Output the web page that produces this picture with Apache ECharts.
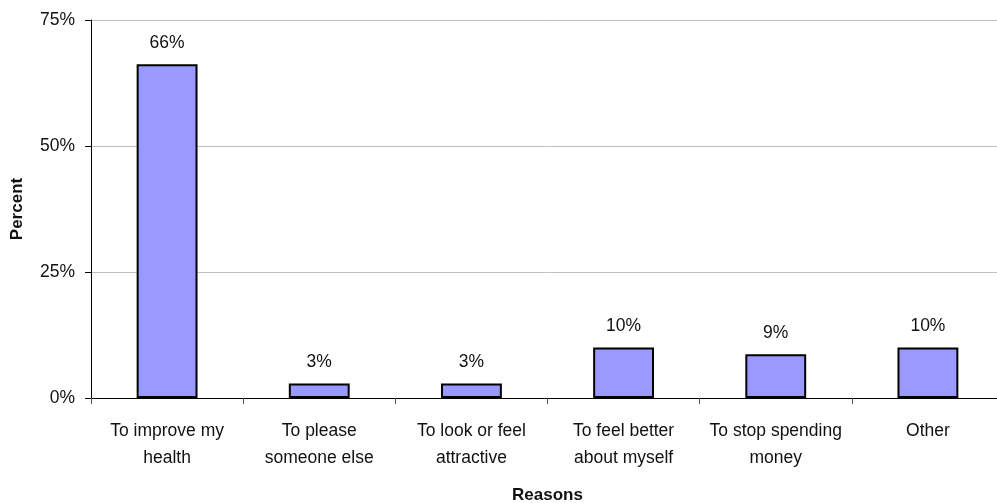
<!DOCTYPE html>
<html><head><meta charset="utf-8">
<script src="https://cdn.jsdelivr.net/npm/echarts@6/dist/echarts.min.js"></script>
<style>html,body{margin:0;padding:0;background:#fff}#c{width:997px;height:503px}</style>
</head><body><div id="c"></div>
<script>
const categories = ["To improve my\nhealth","To please\nsomeone else","To look or feel\nattractive","To feel better\nabout myself","To stop spending\nmoney","Other"];
const values = [66.2, 2.9, 2.9, 10.0, 8.7, 10.0];
const valueLabels = ["66%","3%","3%","10%","9%","10%"];
const font = "'Liberation Sans', Arial, sans-serif";
const chart = echarts.init(document.getElementById('c'), null, {renderer:'canvas'});
chart.setOption({
  animation:false,
  grid:{left:91,right:-7,top:20,bottom:105,containLabel:false,outerBoundsMode:'none'},
  xAxis:{type:'category',data:categories,
    name:'Reasons',nameLocation:'middle',nameGap:89,
    nameTextStyle:{fontFamily:font,fontWeight:'bold',fontSize:17,color:'#111'},
    axisLine:{lineStyle:{color:'#000',width:1}},
    axisTick:{show:true,length:6,lineStyle:{color:'#555'}},
    axisLabel:{fontFamily:font,fontSize:17.5,color:'#111',margin:20,lineHeight:27,interval:0}},
  yAxis:{type:'value',min:0,max:75,interval:25,
    name:'Percent',nameLocation:'middle',nameGap:65,nameRotate:90,
    nameTextStyle:{fontFamily:font,fontWeight:'bold',fontSize:17,color:'#111'},
    axisLine:{show:true,lineStyle:{color:'#000',width:1}},
    axisTick:{show:true,length:6,lineStyle:{color:'#000'}},
    splitLine:{lineStyle:{color:'#c0c0c0',width:1}},
    axisLabel:{fontFamily:font,fontSize:17.5,color:'#111',margin:16,formatter:v=>v+'%'}},
  series:[{type:'bar',data:values,barWidth:'40%',
    itemStyle:{color:'#9999ff',borderColor:'#000',borderWidth:2},
    label:{show:true,position:'top',distance:12,fontFamily:font,fontSize:17.5,color:'#111',
      formatter:p=>valueLabels[p.dataIndex]}}]
});
</script></body></html>
